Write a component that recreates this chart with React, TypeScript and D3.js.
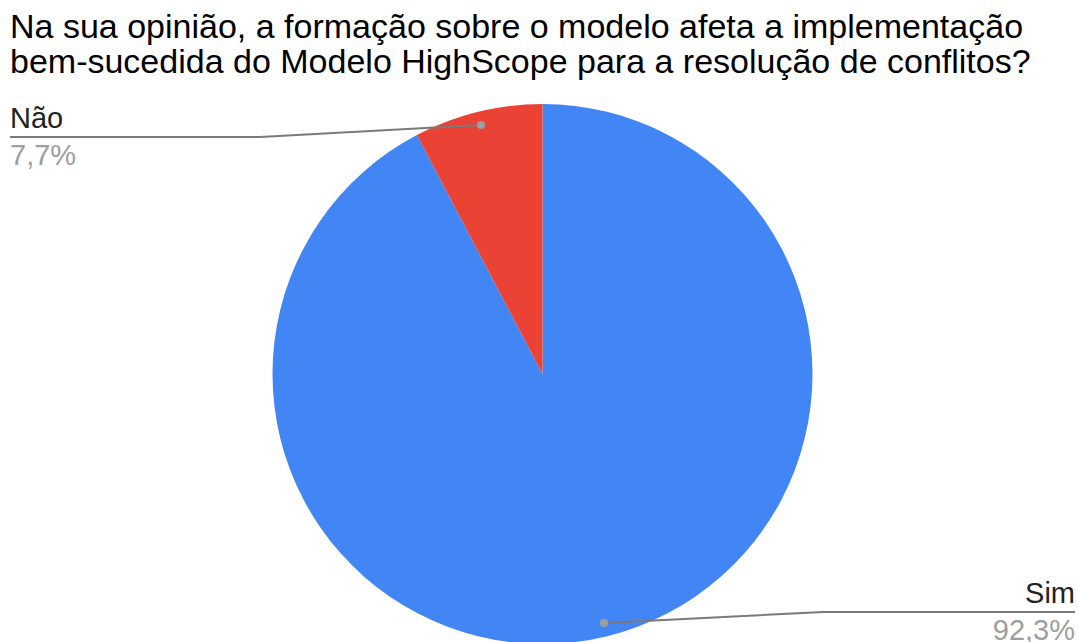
import React from "react";
import * as d3 from "d3";

const categories = ["Sim", "Não"];
const values = [92.3, 7.7];
const percentLabels = ["92,3%", "7,7%"];
const colors = ["#4285F4", "#EA4335"];
const titleLines = [
  "Na sua opinião, a formação sobre o modelo afeta a implementação",
  "bem-sucedida do Modelo HighScope para a resolução de conflitos?",
];

const W = 1078;
const H = 642;
const cx = 542.5;
const cy = 374;
const R = 270;

export default function App() {
  const pie = d3.pie<number>().sort(null).startAngle(0).endAngle(2 * Math.PI);
  const arcs = pie(values);
  const arcGen = d3.arc<d3.PieArcDatum<number>>().innerRadius(0).outerRadius(R);
  const font = "'Liberation Sans', Arial, sans-serif";

  const labelInfo = arcs.map((a, i) => {
    const mid = (a.startAngle + a.endAngle) / 2;
    const r = R * 0.95;
    const dx = cx + Math.sin(mid) * r;
    const dy = cy - Math.cos(mid) * r;
    return { dx, dy, i };
  });

  return (
    <svg width={W} height={H} style={{ position: "absolute", left: 0, top: 0, background: "#fff" }}>
      {titleLines.map((t, i) => (
        <text key={i} x={10} y={38 + i * 35} fontFamily={font} fontSize={34} fill="#000">
          {t}
        </text>
      ))}
      <g transform={`translate(${cx},${cy})`}>
        {arcs.map((a, i) => (
          <path key={i} d={arcGen(a) || ""} fill={colors[i]} />
        ))}
      </g>
      {labelInfo.map(({ dx, dy, i }) => {
        const isRight = dx > cx;
        const lineY = isRight ? 612 : 137;
        const elbowX = isRight ? 823 : 260;
        const endX = isRight ? 1075 : 10;
        return (
          <g key={i}>
            <polyline
              points={`${dx},${dy} ${elbowX},${lineY} ${endX},${lineY}`}
              fill="none"
              stroke="#7a7a7a"
              strokeWidth={2}
            />
            <circle cx={dx} cy={dy} r={4} fill="#9e9e9e" />
            <text
              x={endX}
              y={lineY - 9}
              textAnchor={isRight ? "end" : "start"}
              fontFamily={font}
              fontSize={29}
              fill="#222"
            >
              {categories[i]}
            </text>
            <text
              x={endX}
              y={lineY + 28}
              textAnchor={isRight ? "end" : "start"}
              fontFamily={font}
              fontSize={29}
              fill="#9e9e9e"
            >
              {percentLabels[i]}
            </text>
          </g>
        );
      })}
    </svg>
  );
}
